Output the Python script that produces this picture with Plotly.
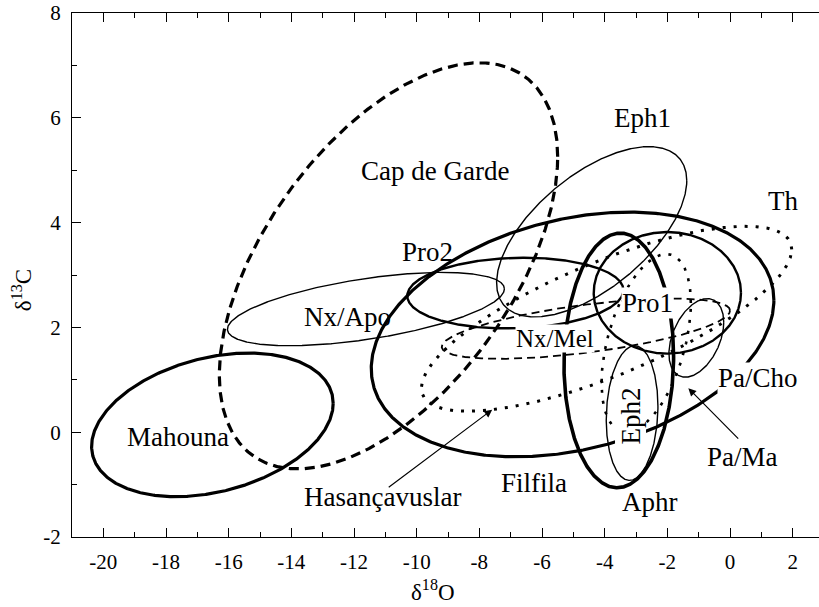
import numpy as np
import plotly.graph_objects as go

# ---- data: confidence ellipses (delta18O on x, delta13C on y) ----
names    = ["Mahouna", "Cap de Garde", "Nx/Apo", "Pro2", "Eph1", "Filfila", "Th",
            "Nx/Mel", "Pro1", "Aphr", "Eph2", "Pa/Cho", "Pa/Ma"]
center_x = [-16.52, -10.90, -11.62, -6.85, -4.415, -5.025, -3.94,
            -4.60, -2.00, -3.55, -3.125, -1.075, -2.675]
center_y = [0.14, 3.175, 2.35, 2.655, 3.825, 1.865, 2.165,
            1.975, 2.66, 1.37, 0.365, 1.80, 1.70]
half_x   = [3.855, 5.40, 4.42, 3.45, 3.035, 6.425, 5.91,
            4.60, 2.35, 1.75, 0.825, 0.875, 1.425]
half_y   = [1.37, 3.875, 0.70, 0.675, 1.625, 2.335, 1.765,
            0.575, 1.16, 2.43, 1.285, 0.75, 1.70]
rho      = [0.30, 0.537, 0.55, 0.08, 0.60, 0.28, 0.75,
            0.60, 0.00, 0.03, 0.10, 0.40, 0.45]

x_tickvals = [-20, -18, -16, -14, -12, -10, -8, -6, -4, -2, 0, 2]
x_ticktext = ["-20", "-18", "-16", "-14", "-12", "-10", "-8", "-6", "-4", "-2", "0", "2"]
y_tickvals = [-2, 0, 2, 4, 6, 8]
y_ticktext = ["-2", "0", "2", "4", "6", "8"]

# ---- styles ----
THICK, MED, THIN = 3.2, 2.4, 1.4
style = {
    "Mahouna":      dict(width=THICK, dash="solid"),
    "Cap de Garde": dict(width=THICK, dash="10px,6px"),
    "Nx/Apo":       dict(width=THIN, dash="solid"),
    "Pro2":         dict(width=MED, dash="solid"),
    "Eph1":         dict(width=THIN, dash="solid"),
    "Filfila":      dict(width=THICK, dash="solid"),
    "Th":           dict(width=3.0, dash="3px,8px"),
    "Nx/Mel":       dict(width=1.8, dash="8px,5px"),
    "Pro1":         dict(width=MED, dash="solid"),
    "Aphr":         dict(width=3.6, dash="solid"),
    "Eph2":         dict(width=THIN, dash="solid"),
    "Pa/Cho":       dict(width=THIN, dash="solid"),
    "Pa/Ma":        dict(width=2.6, dash="3px,8px"),
}

label_pos = {
    "Mahouna": (-17.63, -0.09), "Cap de Garde": (-9.43, 4.98), "Nx/Apo": (-12.21, 2.2),
    "Pro2": (-9.67, 3.44), "Eph1": (-2.79, 6.0), "Filfila": (-6.27, -0.96),
    "Th": (1.69, 4.42), "Nx/Mel": (-5.6, 1.79), "Pro1": (-2.62, 2.47),
    "Aphr": (-2.56, -1.34), "Eph2": (-3.16, 0.30), "Pa/Cho": (0.89, 1.04),
    "Pa/Ma": (0.40, -0.47), "Hasançavuslar": (-11.09, -1.23),
}
white_bg = {"Nx/Mel", "Pro1", "Eph2", "Pa/Cho"}
arrows = {  # label: (tip, tail)
    "Hasançavuslar": ((-7.59, 0.43), (-10.94, -1.07)),
    "Pa/Ma": ((-1.33, 0.84), (0.31, -0.15)),
}

FONT = "Liberation Serif, Times New Roman, serif"

fig = go.Figure()
t = np.linspace(0, 2 * np.pi, 721)
for n, cx, cy, rx, ry, r in zip(names, center_x, center_y, half_x, half_y, rho):
    phi = np.arccos(r)
    xs = cx + rx * np.cos(t)
    ys = cy + ry * np.cos(t - phi)
    st = style[n]
    fig.add_trace(go.Scatter(x=xs, y=ys, mode="lines", name=n,
                             line=dict(color="black", width=st["width"], dash=st["dash"]),
                             hoverinfo="skip", showlegend=False))

for lab, (lx, ly) in label_pos.items():
    fs = 25 if lab == "Nx/Mel" else 27
    fig.add_annotation(x=lx, y=ly, xref="x", yref="y", text=lab, showarrow=False,
                       xanchor="center", yanchor="middle",
                       font=dict(family=FONT, size=fs, color="black"),
                       textangle=-90 if lab == "Eph2" else 0,
                       bgcolor="white" if lab in white_bg else "rgba(0,0,0,0)",
                       borderpad=0)

for lab, ((tx, ty), (sx, sy)) in arrows.items():
    fig.add_annotation(x=tx, y=ty, xref="x", yref="y", ax=sx, ay=sy, axref="x", ayref="y",
                       text="", showarrow=True, arrowhead=2, arrowsize=1.3,
                       arrowwidth=1.2, arrowcolor="black", standoff=0)

# axis titles
fig.add_annotation(x=0.483, y=-0.103, xref="paper", yref="paper",
                   xanchor="center", yanchor="middle",
                   text="δ<sup>18</sup>O", showarrow=False,
                   font=dict(family=FONT, size=23, color="black"))
fig.add_annotation(x=-0.067, y=0.471, xref="paper", yref="paper",
                   xanchor="center", yanchor="middle",
                   text="δ<sup>13</sup>C", showarrow=False, textangle=-90,
                   font=dict(family=FONT, size=23, color="black"))

axis_common = dict(showgrid=False, zeroline=False, showline=True, linecolor="black",
                   linewidth=1.2, ticks="inside", ticklen=9, tickwidth=1.2,
                   tickcolor="black",
                   tickfont=dict(family=FONT, size=21, color="black"))
fig.update_xaxes(range=[-21, 2.84], tickvals=x_tickvals, ticktext=x_ticktext,
                 mirror="ticks", ticklabelstandoff=6,
                 minor=dict(ticks="inside", ticklen=5, tickwidth=1.2, dtick=1,
                            tick0=-21, tickcolor="black"),
                 **axis_common)
fig.update_yaxes(range=[-2, 8], tickvals=y_tickvals, ticktext=y_ticktext,
                 ticklabelstandoff=6,
                 minor=dict(ticks="inside", ticklen=5, tickwidth=1.2, dtick=1,
                            tick0=-1, tickcolor="black"),
                 **axis_common)

fig.update_layout(width=819, height=607, margin=dict(l=72, r=0, t=13, b=70),
                  plot_bgcolor="white", paper_bgcolor="white", showlegend=False)

fig.write_html("out.html")
